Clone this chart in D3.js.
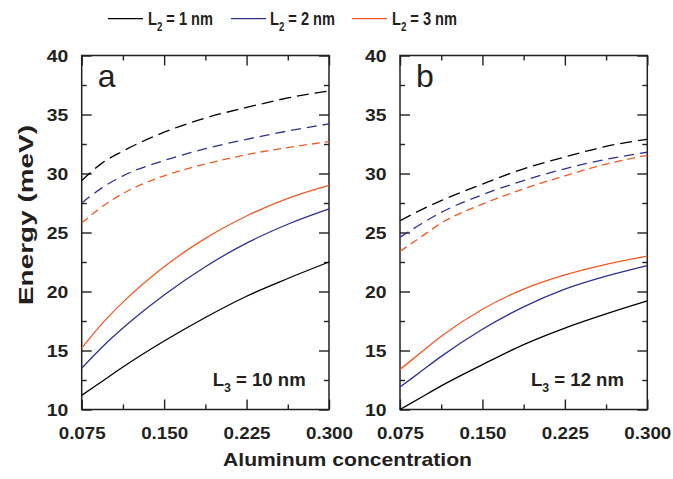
<!DOCTYPE html>
<html><head><meta charset="utf-8">
<script src="https://cdn.jsdelivr.net/npm/d3@7"></script>
<style>
body{margin:0;background:#fff;}
svg{font-family:"Liberation Sans",Arial,Helvetica,sans-serif;}
</style></head>
<body><svg id="c" width="673" height="479"></svg>
<script>
// ---- data ----
const xValues = [0.075, 0.09375, 0.1125, 0.15, 0.1875, 0.225, 0.2625, 0.300];
const xTickLabels = ["0.075", "0.150", "0.225", "0.300"];
const yTickLabels = [10, 15, 20, 25, 30, 35, 40];
const legendL2 = ["1", "2", "3"];
const colors = ["#000000", "#2e3192", "#f15a24"];

// panel a (L3 = 10 nm)
const aSolidL1 = [11.2, 12.4, 13.6, 15.8, 17.8, 19.6, 21.1, 22.5];
const aSolidL2 = [13.5, 15.3, 16.9, 19.7, 22.1, 24.1, 25.7, 27.0];
const aSolidL3 = [15.2, 17.3, 19.1, 22.1, 24.5, 26.4, 27.9, 29.0];
const aDashL1  = [29.4, 30.9, 31.9, 33.5, 34.7, 35.6, 36.4, 37.0];
const aDashL2  = [27.5, 28.8, 29.8, 31.1, 32.1, 32.9, 33.6, 34.2];
const aDashL3  = [25.8, 27.2, 28.3, 29.8, 30.8, 31.6, 32.2, 32.7];
// panel b (L3 = 12 nm)
const bSolidL1 = [10.0, 11.0, 12.0, 13.8, 15.5, 16.9, 18.1, 19.2];
const bSolidL2 = [11.9, 13.2, 14.5, 16.8, 18.7, 20.2, 21.3, 22.2];
const bSolidL3 = [13.4, 14.8, 16.2, 18.5, 20.2, 21.4, 22.3, 23.0];
const bDashL1  = [26.0, 26.9, 27.7, 29.1, 30.4, 31.4, 32.3, 32.9];
const bDashL2  = [24.6, 25.7, 26.7, 28.2, 29.4, 30.4, 31.2, 31.8];
const bDashL3  = [23.4, 24.6, 25.8, 27.4, 28.7, 29.8, 30.8, 31.55];

const panels = [
  {letter:"a", l3:"10", left:81.7, solid:[aSolidL1,aSolidL2,aSolidL3], dash:[aDashL1,aDashL2,aDashL3]},
  {letter:"b", l3:"12", left:400, solid:[bSolidL1,bSolidL2,bSolidL3], dash:[bDashL1,bDashL2,bDashL3]}
];
const dashPatterns = ["12,6", "10,6", "8,5"];

const svg = d3.select("#c");
const plotTop = 55.5, plotBottom = 409.5, pw = 247.3;
const axisColor = "#231f20";

// scale a text element horizontally (about its anchor x) to a target width
function fitW(t, ax, w) {
  const bb = t.node().getBBox();
  const s = w / bb.width;
  t.attr("transform", `translate(${ax},0) scale(${s},1) translate(${-ax},0)`);
}

panels.forEach(p => {
  const x = d3.scaleLinear().domain([0.075, 0.3]).range([p.left, p.left + pw]);
  const y = d3.scaleLinear().domain([10, 40]).range([plotBottom, plotTop]);
  const g = svg.append("g");
  const majX = xTickLabels.map(Number);
  const minX = [0.1125, 0.1875, 0.2625];
  const majY = yTickLabels;
  const minY = [12.5, 17.5, 22.5, 27.5, 32.5, 37.5];

  const mk = (gen, tr, vals, size, lab) => {
    const a = g.append("g").attr("transform", tr)
      .call(gen.tickValues(vals).tickSize(size).tickPadding(0).tickFormat(lab ? lab : ""));
    a.select(".domain").remove();
    a.selectAll("line").attr("stroke", axisColor).attr("stroke-width", 1.4);
    return a;
  };
  const bx = mk(d3.axisBottom(x), `translate(0,${plotBottom})`, majX, -10, d => d3.format(".3f")(d));
  bx.selectAll("text").attr("y", 29.5).attr("dy", 0).attr("font-size", 17).attr("font-weight", "bold")
    .attr("fill", "#231f20").attr("textLength", 47).attr("lengthAdjust", "spacingAndGlyphs");
  mk(d3.axisBottom(x), `translate(0,${plotBottom})`, minX, -5);
  mk(d3.axisTop(x), `translate(0,${plotTop})`, majX, -10);
  mk(d3.axisTop(x), `translate(0,${plotTop})`, minX, -5);
  const ly = mk(d3.axisLeft(y), `translate(${p.left},0)`, majY, -10, d => d);
  ly.selectAll("text").attr("x", -13.5).attr("dy", "0.36em").attr("font-size", 16.5).attr("font-weight", "bold")
    .attr("fill", "#231f20").attr("textLength", 21.5).attr("lengthAdjust", "spacingAndGlyphs");
  mk(d3.axisLeft(y), `translate(${p.left},0)`, minY, -5);
  mk(d3.axisRight(y), `translate(${p.left+pw},0)`, majY, -10);
  mk(d3.axisRight(y), `translate(${p.left+pw},0)`, minY, -5);

  g.append("rect").attr("x", p.left).attr("y", plotTop).attr("width", pw).attr("height", plotBottom - plotTop)
    .attr("fill", "none").attr("stroke", axisColor).attr("stroke-width", 1.5);

  const line = d3.line().x((d, i) => x(xValues[i])).y(d => y(d)).curve(d3.curveMonotoneX);
  p.dash.forEach((s, i) => {
    g.append("path").attr("d", line(s)).attr("fill", "none").attr("stroke", colors[i])
      .attr("stroke-width", 1.3).attr("stroke-dasharray", dashPatterns[i]);
  });
  p.solid.forEach((s, i) => {
    g.append("path").attr("d", line(s)).attr("fill", "none").attr("stroke", colors[i])
      .attr("stroke-width", 1.3);
  });

  g.append("text").attr("x", p.left + 16).attr("y", 87).attr("font-size", 32).attr("fill", "#231f20").text(p.letter);

  const lx = p.left + 131;
  const t = g.append("text").attr("x", lx).attr("y", 386.5)
    .attr("font-size", 18).attr("font-weight", "bold").attr("fill", "#231f20");
  t.append("tspan").text("L");
  t.append("tspan").attr("font-size", 12).attr("dy", 6).text("3");
  t.append("tspan").attr("dy", -6).text(" = " + p.l3 + " nm");
  fitW(t, lx, 93);
});

const xt = svg.append("text").attr("x", 347.5).attr("y", 466.5).attr("text-anchor", "middle")
  .attr("font-size", 18.5).attr("font-weight", "bold").attr("fill", "#231f20").text("Aluminum concentration");
fitW(xt, 347.5, 249);
svg.append("text").attr("transform", "translate(32.5,215) rotate(-90)").attr("x", 0).attr("y", 0)
  .attr("text-anchor", "middle").attr("font-size", 19.5).attr("font-weight", "bold").attr("fill", "#231f20")
  .attr("textLength", 180).attr("lengthAdjust", "spacingAndGlyphs").text("Energy (meV)");

const legLineX = [108, 231, 352];
const legTextX = [148, 270, 392];
legendL2.forEach((v, i) => {
  const lg = svg.append("g");
  lg.append("line").attr("x1", legLineX[i]).attr("x2", legLineX[i] + 35).attr("y1", 18.7).attr("y2", 18.7)
    .attr("stroke", colors[i]).attr("stroke-width", 1.3);
  const t = lg.append("text").attr("x", legTextX[i]).attr("y", 25.5).attr("font-size", 18)
    .attr("font-weight", "bold").attr("fill", "#231f20");
  t.append("tspan").text("L");
  t.append("tspan").attr("font-size", 12).attr("dy", 6).text("2");
  t.append("tspan").attr("dy", -6).text(" = " + v + " nm");
  fitW(t, legTextX[i], 65);
});
</script></body></html>
